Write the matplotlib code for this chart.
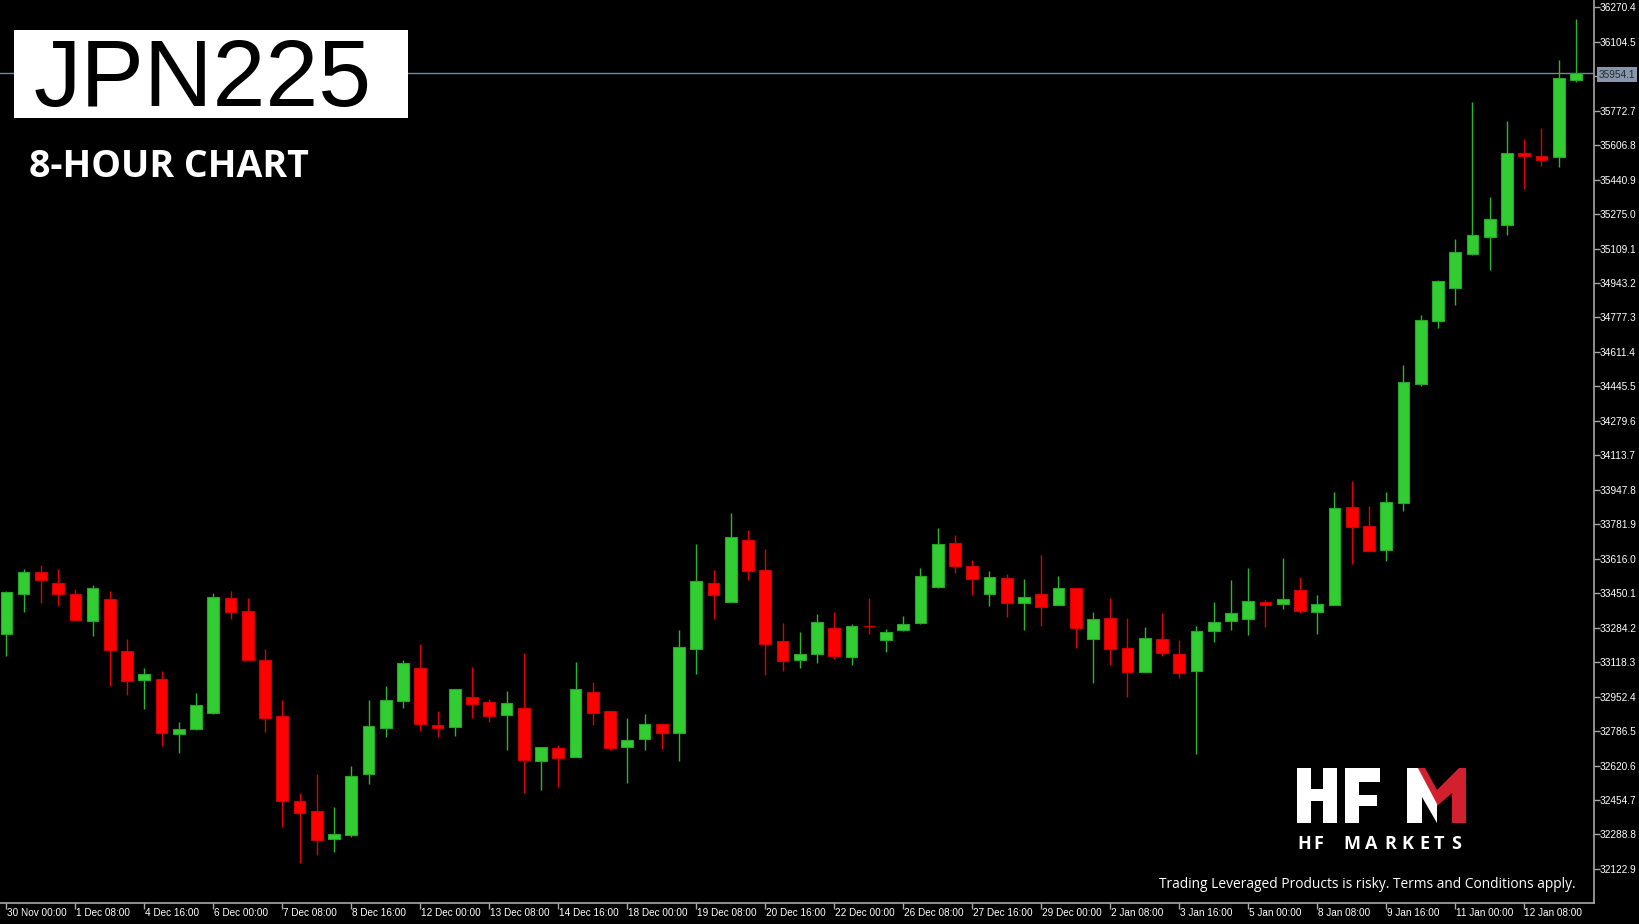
import matplotlib.pyplot as plt
import numpy as np
from matplotlib.patches import Rectangle, Polygon
from matplotlib.transforms import blended_transform_factory

W, H = 1640, 924

# JPN225, 8-hour candles
opens = [33254, 33447, 33552, 33501, 33445, 33316, 33422, 33174, 33031, 33036,
         32773, 32798, 32875, 33427, 33366, 33129, 32859, 32449, 32402, 32269,
         32285, 32580, 32803, 32933, 33092, 32816, 32808, 32951, 32925, 32866,
         32899, 32643, 32704, 32663, 32973, 32883, 32710, 32747, 32822, 32778,
         33182, 33501, 33409, 33708, 33563, 33220, 33129, 33156, 33283, 33145,
         33294, 33224, 33275, 33305, 33480, 33692, 33583, 33447, 33525, 33405,
         33448, 33394, 33474, 33228, 33330, 33185, 33073, 33230, 33158, 33077,
         33270, 33317, 33326, 33408, 33400, 33464, 33358, 33395, 33864, 33775,
         33658, 33886, 34456, 34762, 34918, 35083, 35166, 35223, 35569, 35553,
         35551, 35919]
highs = [33460, 33568, 33585, 33568, 33469, 33491, 33461, 33231, 33092, 33076,
         32832, 32969, 33450, 33461, 33429, 33180, 32936, 32490, 32579, 32423,
         32620, 32936, 33004, 33129, 33206, 32885, 32988, 33097, 32941, 32978,
         33164, 32709, 32718, 33118, 33024, 32883, 32848, 32869, 32827, 33273,
         33687, 33563, 33835, 33755, 33662, 33308, 33262, 33350, 33361, 33301,
         33429, 33278, 33341, 33570, 33766, 33730, 33610, 33557, 33541, 33517,
         33636, 33533, 33474, 33361, 33429, 33330, 33288, 33354, 33224, 33293,
         33407, 33512, 33573, 33418, 33620, 33527, 33440, 33937, 33989, 33870,
         33937, 34549, 34788, 34958, 35155, 35813, 35357, 35725, 35636, 35689,
         36015, 36214]
lows = [33150, 33361, 33405, 33390, 33316, 33243, 33005, 32959, 32894, 32715,
        32683, 32792, 32869, 33325, 33130, 32782, 32326, 32153, 32190, 32206,
        32278, 32532, 32760, 32896, 32787, 32760, 32765, 32848, 32829, 32694,
        32490, 32502, 32518, 32663, 32817, 32694, 32538, 32694, 32700, 32641,
        33063, 33326, 33409, 33512, 33057, 33077, 33092, 33113, 33134, 33103,
        33254, 33169, 33270, 33301, 33477, 33549, 33440, 33389, 33337, 33275,
        33294, 33394, 33185, 33020, 33103, 32952, 33073, 33150, 33042, 32678,
        33217, 33275, 33249, 33289, 33373, 33354, 33254, 33395, 33591, 33650,
        33607, 33846, 34446, 34725, 34839, 35078, 35006, 35174, 35394, 35508,
        35503, 35909]
closes = [33455, 33552, 33512, 33447, 33321, 33475, 33177, 33026, 33060, 32778,
          32795, 32911, 33434, 33358, 33130, 32851, 32450, 32394, 32264, 32290,
          32569, 32811, 32935, 33113, 32819, 32803, 32988, 32919, 32861, 32920,
          32649, 32709, 32659, 32988, 32875, 32705, 32744, 32822, 32778, 33190,
          33508, 33440, 33719, 33556, 33207, 33124, 33159, 33310, 33150, 33294,
          33290, 33262, 33304, 33532, 33687, 33581, 33519, 33530, 33405, 33434,
          33384, 33474, 33284, 33325, 33182, 33073, 33236, 33161, 33068, 33267,
          33313, 33354, 33411, 33394, 33422, 33363, 33397, 33859, 33768, 33653,
          33889, 34465, 34765, 34952, 35093, 35174, 35253, 35569, 35556, 35535,
          35931, 35954.1]

date_labels = ['30 Nov 00:00', '1 Dec 08:00', '4 Dec 16:00', '6 Dec 00:00',
               '7 Dec 08:00', '8 Dec 16:00', '12 Dec 00:00', '13 Dec 08:00',
               '14 Dec 16:00', '18 Dec 00:00', '19 Dec 08:00', '20 Dec 16:00',
               '22 Dec 00:00', '26 Dec 08:00', '27 Dec 16:00', '29 Dec 00:00',
               '2 Jan 08:00', '3 Jan 16:00', '5 Jan 00:00', '8 Jan 08:00',
               '9 Jan 16:00', '11 Jan 00:00', '12 Jan 08:00']
label_step = 4

price_ticks = [32122.9, 32288.8, 32454.7, 32620.6, 32786.5, 32952.4, 33118.3,
               33284.2, 33450.1, 33616.0, 33781.9, 33947.8, 34113.7, 34279.6,
               34445.5, 34611.4, 34777.3, 34943.2, 35109.1, 35275.0, 35440.9,
               35606.8, 35772.7, 35938.6, 36104.5, 36270.4]


def fx(px):
    return px / W


def fy(py):
    return 1 - py / H


fig = plt.figure(figsize=(W / 100, H / 100), dpi=100, facecolor='black')
ax = fig.add_axes([0, fy(903), fx(1594), 903 / H])
ax.set_facecolor('black')

o = np.array(opens, float)
h = np.array(highs, float)
l = np.array(lows, float)
c = np.array(closes, float)
x = np.arange(len(o))
up = c >= o

ax.vlines(x, l, h, colors=np.where(up, '#2cb52c', '#e00000'), lw=1.0, zorder=2)
ax.bar(x, np.maximum(np.abs(c - o), 3), bottom=np.minimum(o, c), width=0.68,
       color=np.where(up, '#32cd32', '#ff0000'),
       edgecolor=np.where(up, '#25a825', '#d00000'), linewidth=0.8, zorder=3)

# current price line + tag
ax.axhline(c[-1], color='#778899', lw=1, zorder=1)
ax.text(1.003, c[-1] - 8, f'{c[-1]:.1f}', transform=ax.get_yaxis_transform(),
        ha='left', va='center', fontsize=7.2, color='#202a36', family='Liberation Sans',
        bbox=dict(boxstyle='square,pad=0.22', fc='#8796a8', ec='none'),
        clip_on=False, zorder=10)

ax.set_xlim(-0.37, 92.05)
ax.set_ylim(31959, 36305.3)

for s in ['top', 'left']:
    ax.spines[s].set_visible(False)
for s in ['right', 'bottom']:
    ax.spines[s].set_color('#a8a8a8')
    ax.spines[s].set_linewidth(1.2)

ax.yaxis.tick_right()
ax.set_yticks(price_ticks)
ax.set_yticklabels(['' if abs(v - c[-1]) < 60 else f'{v:.1f}' for v in price_ticks],
                   family='Liberation Sans')
ax.tick_params(axis='y', colors='#a8a8a8', labelcolor='white', length=4,
               width=1, pad=0.3, labelsize=7.3)

xt = x[::label_step]
ax.set_xticks(xt)
ax.set_xticklabels([])
ax.tick_params(axis='x', colors='#a8a8a8', length=4, width=1)
bt = blended_transform_factory(ax.transData, ax.transAxes)
for i, lab in zip(xt, date_labels):
    ax.text(i + 0.02, -0.006, lab, transform=bt, ha='left', va='top', fontsize=7.2,
            color='white', family='Liberation Sans', clip_on=False)

# title block
fig.add_artist(Rectangle((fx(14), fy(118)), fx(394), 88 / H, transform=fig.transFigure,
                         facecolor='white', edgecolor='none', zorder=5))
fig.text(fx(34), fy(106), 'JPN225', fontsize=68.5, family='Liberation Sans',
         color='black', ha='left', va='baseline', zorder=6)
fig.text(fx(29), fy(177), '8-HOUR CHART', fontsize=27, family='Open Sans',
         weight='bold', color='white', ha='left', va='baseline')

# HFM logo
logo_red = [(1418, 768), (1425, 768), (1437, 790), (1459, 768), (1466, 768),
            (1466, 823), (1452, 823), (1452, 793), (1437, 806)]
logo_white = [
    [(1297, 768), (1311.5, 768), (1311.5, 823), (1297, 823)],
    [(1323, 768), (1337, 768), (1337, 823), (1323, 823)],
    [(1297, 789), (1337, 789), (1337, 801), (1297, 801)],
    [(1345, 768), (1359, 768), (1359, 823), (1345, 823)],
    [(1345, 768), (1380, 768), (1380, 782), (1345, 782)],
    [(1345, 795), (1377, 795), (1377, 806), (1345, 806)],
    [(1407, 768), (1418, 768), (1437, 804), (1437, 823), (1422, 797),
     (1422, 823), (1407, 823)],
]
fig.add_artist(Polygon([(fx(a), fy(b)) for a, b in logo_red], closed=True,
                       transform=fig.transFigure, facecolor='#d3202f', edgecolor='none'))
for poly in logo_white:
    fig.add_artist(Polygon([(fx(a), fy(b)) for a, b in poly], closed=True,
                           transform=fig.transFigure, facecolor='white', edgecolor='none'))

for letter, px in zip('HFMARKETS', [1297, 1313, 1343, 1365, 1384, 1401.5, 1419, 1434, 1451.5]):
    fig.text(fx(px), fy(849), letter, fontsize=13, family='Open Sans', weight='bold',
             color='white', ha='left', va='baseline')

fig.text(fx(1576), fy(888), 'Trading Leveraged Products is risky. Terms and Conditions apply.',
         fontsize=9.9, family='Open Sans', color='white', ha='right', va='baseline')

fig.savefig('out.png', dpi=100, facecolor='black')
